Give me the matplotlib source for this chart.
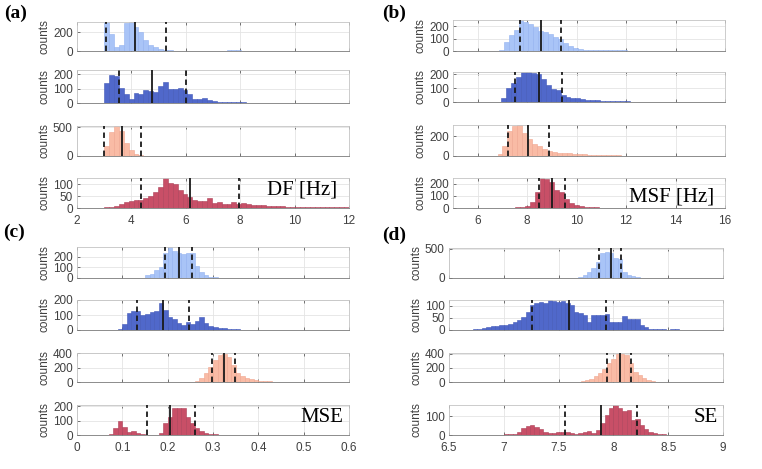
import numpy as np
from matplotlib import pyplot as plt

# ---- (a) DF [Hz] ----
df_start = [3.0, 3.0, 3.0, 3.0]
df_width = 0.18
df_1 = [310, 180, 40, 65, 295, 310, 260, 200, 122, 65, 38, 17, 10, 6, 4, 3, 3, 2, 2, 3,
        3, 3, 4, 4, 5, 6, 7, 6, 5, 4, 4, 3, 3, 2, 2, 2, 2, 2, 2, 2, 2, 1, 1, 1, 1, 1, 1, 1, 1, 1]
df_2 = [135, 195, 188, 107, 60, 30, 70, 62, 88, 80, 76, 120, 145, 95, 97, 102, 88, 65, 30, 28,
        33, 18, 12, 8, 6, 5, 5, 4, 4, 3, 3, 3, 3, 2, 2, 2, 2, 2, 2, 2, 2, 2, 1, 1, 1, 1, 0, 0, 0, 0]
df_3 = [170, 424, 530, 440, 230, 100, 30, 15, 6, 4, 3, 2, 2, 2, 1, 1, 1, 1, 1, 1,
        1, 1, 2, 2, 2, 2, 1, 1, 1, 1, 1, 1, 1, 1, 1, 1, 0, 0, 0, 0, 0, 0, 0, 0, 0, 0, 0, 0, 0, 0]
df_4 = [5, 5, 10, 18, 25, 31, 32, 35, 40, 50, 65, 89, 124, 105, 100, 75, 60, 44, 32, 30,
        28, 43, 21, 25, 15, 15, 23, 15, 22, 18, 14, 14, 12, 8, 8, 7, 7, 6, 6, 6, 5, 5, 5, 5, 4, 4, 4, 5, 4, 3]
df_lines = [[3.05, 4.15, 5.28], [3.53, 4.75, 5.99], [3.0, 3.66, 4.36], [4.37, 6.16, 7.97]]

# ---- (b) MSF [Hz] ----
msf_start = [6.85, 6.95, 6.8, 7.5]
msf_width = 0.2
msf_1 = [8, 75, 128, 173, 248, 230, 221, 195, 163, 150, 141, 115, 93, 61, 43, 27, 13, 11, 5, 5,
         8, 8, 8, 7, 5, 5, 3, 3, 2, 2, 2, 2, 2, 2, 2, 1, 1, 1, 1, 1]
msf_2 = [30, 100, 135, 177, 213, 213, 209, 200, 165, 120, 95, 84, 52, 38, 31, 26, 21, 16, 14, 14,
         9, 9, 7, 7, 5, 4, 3, 3, 3, 2, 2, 2, 2, 2, 1, 1, 1, 1]
msf_3 = [24, 98, 254, 300, 312, 227, 170, 125, 98, 75, 51, 41, 34, 31, 27, 24, 20, 17, 15, 13,
         11, 10, 8, 7, 6, 5, 4, 4, 3, 3, 2, 2, 2]
msf_4 = [5, 10, 20, 50, 130, 250, 235, 214, 150, 131, 77, 41, 25, 16, 11, 8, 5, 4, 4, 3,
         3, 2, 2, 2, 1, 1]
msf_lines = [[7.71, 8.54, 9.38], [7.52, 8.48, 9.41], [7.22, 8.03, 8.89], [8.48, 9.0, 9.54]]

# ---- (c) MSE ----
mse_start = [0.11, 0.09, 0.26, 0.07]
mse_width = 0.01
mse_1 = [2, 3, 3, 4, 25, 41, 73, 105, 232, 290, 257, 232, 225, 238, 232, 111, 57, 25, 13, 6,
         3, 2, 2, 1]
mse_2 = [9, 40, 116, 127, 124, 100, 107, 118, 129, 178, 133, 84, 71, 44, 33, 56, 40, 62, 84, 49,
         27, 18, 16, 11, 9, 7, 4, 3, 3, 2, 2, 2, 2, 1]
mse_3 = [14, 54, 122, 203, 302, 370, 383, 338, 234, 122, 77, 54, 40, 27, 18, 14, 9, 5, 3, 2, 1]
mse_4 = [5, 46, 100, 53, 23, 28, 12, 5, 2, 2, 2, 12, 80, 126, 184, 188, 184, 126, 85, 46,
         30, 16, 7, 4, 3, 3, 2, 2, 2, 1, 1]
mse_lines = [[0.194, 0.224, 0.254], [0.132, 0.189, 0.248], [0.297, 0.324, 0.349], [0.154, 0.206, 0.261]]

# ---- (d) SE ----
se_start = [7.64, 6.68, 7.38, 6.88]
se_width = 0.04
se_1 = [5, 12, 47, 105, 163, 280, 424, 442, 424, 337, 320, 105, 58, 29, 17, 6, 4, 3, 2, 2, 2, 1, 1]
se_2 = [2, 3, 4, 10, 14, 15, 17, 19, 19, 25, 32, 42, 53, 76, 104, 114, 118, 111, 125, 121,
        118, 121, 114, 104, 76, 72, 63, 35, 63, 63, 63, 67, 35, 35, 35, 58, 44, 44, 44, 21,
        14, 4, 4, 3, 3, 2, 3, 3, 1]
se_3 = [1, 1, 2, 2, 2, 3, 4, 6, 14, 23, 41, 78, 124, 183, 271, 330, 399, 390, 376, 261,
        138, 101, 55, 28, 14, 5, 4, 2, 1]
se_4 = [2, 2, 2, 4, 4, 5, 18, 37, 49, 51, 40, 30, 18, 9, 11, 14, 14, 14, 9, 5,
        9, 18, 21, 12, 26, 61, 105, 140, 158, 140, 126, 132, 79, 84, 53, 30, 18, 9, 5, 4, 2]
se_lines = [[7.873, 7.976, 8.073], [7.258, 7.594, 7.933], [7.942, 8.058, 8.158], [7.555, 7.885, 8.218]]

face_colors = ['#a9c4f7', '#5068ca', '#f9bba5', '#c84f67']
edge_colors = ['#93b2f0', '#4158b8', '#f0a68f', '#ad4058']

W, H = 762, 469
fig = plt.figure(figsize=(W / 100, H / 100), dpi=100)
sans = ['Liberation Sans', 'DejaVu Sans']


def px_box(l, t, r, b):
    return [l / W, 1 - b / H, (r - l) / W, (b - t) / H]


def draw_panel(left, right, rows, xlim, xticks, xlabels, starts, width, counts, lines, ytops, yticks):
    for k in range(4):
        ax = fig.add_axes(px_box(left, rows[k][0], right, rows[k][1]))
        c = np.array(counts[k], dtype=float)
        edges = starts[k] + width * np.arange(len(c) + 1)
        ax.hist(edges[:-1], bins=edges, weights=c, color=face_colors[k],
                edgecolor=edge_colors[k], linewidth=0.4, zorder=2)
        ax.axvline(lines[k][0], color='#1a1a1a', ls=(0, (3, 2)), lw=1.3, zorder=3)
        ax.axvline(lines[k][1], color='#1a1a1a', ls='-', lw=1.3, zorder=3)
        ax.axvline(lines[k][2], color='#1a1a1a', ls=(0, (3, 2)), lw=1.3, zorder=3)
        ax.set_xlim(xlim)
        ax.set_ylim(0, ytops[k])
        ax.set_xticks(xticks)
        ax.set_yticks(yticks[k])
        ax.grid(True, color='#e4e4e4', lw=0.6)
        ax.set_axisbelow(True)
        for s in ax.spines.values():
            s.set_color('#c4c4c4')
            s.set_linewidth(0.6)
        ax.spines['bottom'].set_color('#7a7a7a')
        ax.tick_params(direction='in', length=2, width=0.5, colors='#404040',
                       labelsize=8.5, pad=3, top=True)
        ax.tick_params(axis='x', pad=5)
        for t in ax.get_yticklabels():
            t.set_fontfamily(sans)
        ax.set_ylabel('counts', fontsize=8.5, color='#404040', labelpad=2, fontfamily=sans)
        if k < 3:
            ax.tick_params(labelbottom=False)
        else:
            ax.set_xticklabels(xlabels, fontfamily=sans)


draw_panel(77, 349, [(22, 51), (70, 103), (126, 156), (178, 208)], (2, 12),
           [2, 4, 6, 8, 10, 12], ['2', '4', '6', '8', '10', '12'],
           df_start, df_width, [df_1, df_2, df_3, df_4], df_lines,
           [310, 228, 525, 125], [[0, 200], [0, 100, 200], [0, 500], [0, 50, 100]])
draw_panel(453, 725, [(20, 51), (72, 102), (125, 156), (178, 208)], (5, 16),
           [6, 8, 10, 12, 14, 16], ['6', '8', '10', '12', '14', '16'],
           msf_start, msf_width, [msf_1, msf_2, msf_3, msf_4], msf_lines,
           [250, 216, 312, 246], [[0, 100, 200], [0, 100, 200], [0, 200], [0, 100, 200]])
draw_panel(77, 349, [(247, 278), (300, 330), (353, 382), (405, 435)], (0, 0.6),
           [0, 0.1, 0.2, 0.3, 0.4, 0.5, 0.6], ['0', '0.1', '0.2', '0.3', '0.4', '0.5', '0.6'],
           mse_start, mse_width, [mse_1, mse_2, mse_3, mse_4], mse_lines,
           [290, 200, 400, 207], [[0, 100, 200], [0, 100, 200], [0, 200, 400], [0, 100, 200]])
draw_panel(449, 723, [(248, 278), (300, 330), (353, 382), (405, 435)], (6.5, 9),
           [6.5, 7, 7.5, 8, 8.5, 9], ['6.5', '7', '7.5', '8', '8.5', '9'],
           se_start, se_width, [se_1, se_2, se_3, se_4], se_lines,
           [510, 125, 408, 158], [[0, 500], [0, 50, 100], [0, 200, 400], [0, 100]])

serif = 'Liberation Serif'
for lab, x, y in [('(a)', 4, 13), ('(b)', 382, 13), ('(c)', 3, 232), ('(d)', 382, 235)]:
    fig.text(x / W, 1 - y / H, lab, ha='left', va='center', fontfamily=serif,
             fontweight='bold', fontsize=14)
for lab, x, y in [('DF [Hz]', 302, 190), ('MSF [Hz]', 672, 197), ('MSE', 322, 417), ('SE', 706, 417)]:
    fig.text(x / W, 1 - y / H, lab, ha='center', va='center', fontfamily=serif, fontsize=15)

fig.savefig('out.png', dpi=100)
